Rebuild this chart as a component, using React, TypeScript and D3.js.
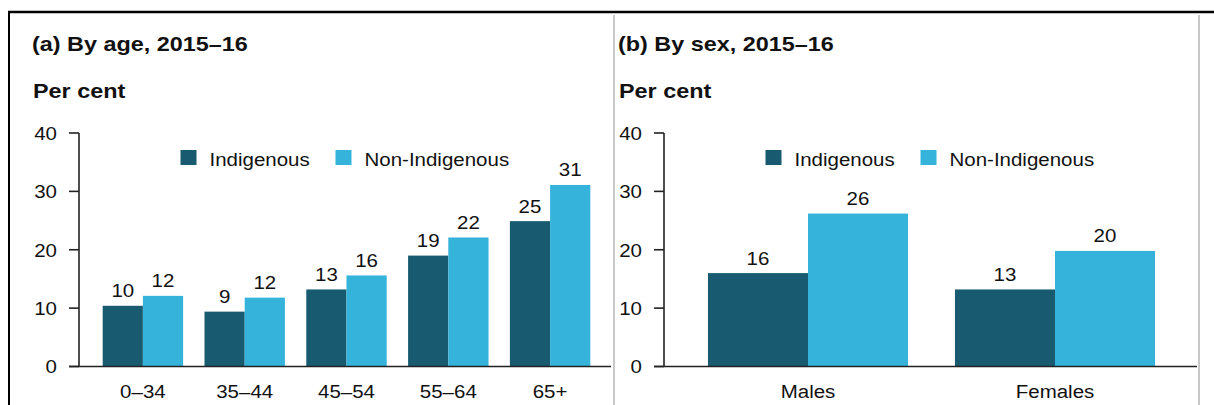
import React from 'react';
import * as d3 from 'd3';

// chart values
const ageCategories = ['0–34', '35–44', '45–54', '55–64', '65+'];
const ageIndigenous = [10.4, 9.4, 13.2, 19.0, 24.9];
const ageNonIndigenous = [12.1, 11.8, 15.6, 22.1, 31.1];

const sexCategories = ['Males', 'Females'];
const sexIndigenous = [16.0, 13.2];
const sexNonIndigenous = [26.2, 19.8];

const seriesNames = ['Indigenous', 'Non-Indigenous'];
const yTicks = [0, 10, 20, 30, 40];

const W = 1214;
const H = 405;
const FONT = '"Liberation Sans", Arial, sans-serif';
const colors = ['#185b70', '#35b3db'];
const axisColor = '#222';

const y = d3.scaleLinear().domain([0, 40]).range([366.5, 133]);
const fmt = d3.format('.0f');

type TxtProps = {
  x: number;
  y: number;
  children: React.ReactNode;
  anchor?: 'start' | 'middle' | 'end';
  bold?: boolean;
  dy?: string;
};

// the reference text is a bit stretched sideways, so scale x a little
const Txt = ({ x, y, children, anchor = 'start', bold = false, dy }: TxtProps) => (
  <text
    transform={`translate(${x},${y}) scale(${bold ? 1.17 : 1.09},1)`}
    textAnchor={anchor}
    dy={dy}
    fontFamily={FONT}
    fontSize={bold ? 20 : 18.8}
    fontWeight={bold ? 'bold' : 'normal'}
    fill="#111"
  >
    {children}
  </text>
);

type PanelProps = {
  title: string;
  categories: string[];
  indigenous: number[];
  nonIndigenous: number[];
  axisX: number;
  bandRange: [number, number];
  padding: number;
  baselineEnd: number;
  titleX: number;
};

const Panel = ({ title, categories, indigenous, nonIndigenous, axisX, bandRange, padding, baselineEnd, titleX }: PanelProps) => {
  const x0 = d3.scaleBand().domain(categories).range(bandRange).paddingInner(padding).paddingOuter(padding / 2);
  const x1 = d3.scaleBand().domain(seriesNames).range([0, x0.bandwidth()]);
  const series = [indigenous, nonIndigenous];
  const legendX = axisX + 101.5;
  const legendOffsets = [0, 155];

  return (
    <g>
      <Txt x={titleX} y={51} bold>{title}</Txt>
      <Txt x={titleX + 1} y={98} bold>Per cent</Txt>

      {/* bars */}
      {categories.map((c, i) => (
        <g key={c}>
          {series.map((vals, s) => {
            const bx = (x0(c) ?? 0) + (x1(seriesNames[s]) ?? 0);
            return (
              <g key={s}>
                <rect x={bx} y={y(vals[i])} width={x1.bandwidth()} height={y(0) - y(vals[i])} fill={colors[s]} />
                <Txt x={bx + x1.bandwidth() / 2} y={y(vals[i]) - 8.5} anchor="middle">{fmt(vals[i])}</Txt>
              </g>
            );
          })}
          <Txt x={(x0(c) ?? 0) + x0.bandwidth() / 2} y={398} anchor="middle">{c}</Txt>
        </g>
      ))}

      {/* y axis */}
      <line x1={axisX} x2={axisX} y1={y(40)} y2={y(0)} stroke={axisColor} strokeWidth={1.6} />
      {yTicks.map((t) => (
        <g key={t}>
          <line x1={axisX - 10} x2={axisX} y1={y(t)} y2={y(t)} stroke={axisColor} strokeWidth={1.6} />
          <Txt x={axisX - 22} y={y(t)} anchor="end" dy="0.36em">{t}</Txt>
        </g>
      ))}
      <line x1={axisX - 10} x2={baselineEnd} y1={y(0)} y2={y(0)} stroke={axisColor} strokeWidth={1.6} />

      {/* legend */}
      {seriesNames.map((name, s) => (
        <g key={name}>
          <rect x={legendX + legendOffsets[s]} y={150} width={16} height={15} fill={colors[s]} />
          <Txt x={legendX + legendOffsets[s] + 29} y={166}>{name}</Txt>
        </g>
      ))}
    </g>
  );
};

export default function App() {
  return (
    <svg width={W} height={H} style={{ position: 'absolute', left: 0, top: 0, background: '#fff' }}>
      <rect width={W} height={H} fill="#fff" />
      {/* frame */}
      <line x1={8} x2={W} y1={12} y2={12} stroke="#000" strokeWidth={2.5} />
      <line x1={9} x2={9} y1={11} y2={H} stroke="#000" strokeWidth={2} />
      <line x1={614} x2={614} y1={15} y2={H} stroke="#c8c8c8" strokeWidth={2} />
      <line x1={1199} x2={1199} y1={15} y2={H} stroke="#c8c8c8" strokeWidth={2} />

      <Panel
        title="(a) By age, 2015–16"
        categories={ageCategories}
        indigenous={ageIndigenous}
        nonIndigenous={ageNonIndigenous}
        axisX={79}
        bandRange={[92, 601]}
        padding={0.21}
        baselineEnd={611}
        titleX={32}
      />
      <Panel
        title="(b) By sex, 2015–16"
        categories={sexCategories}
        indigenous={sexIndigenous}
        nonIndigenous={sexNonIndigenous}
        axisX={664}
        bandRange={[684.5, 1178.5]}
        padding={0.19}
        baselineEnd={1197}
        titleX={618}
      />
    </svg>
  );
}
